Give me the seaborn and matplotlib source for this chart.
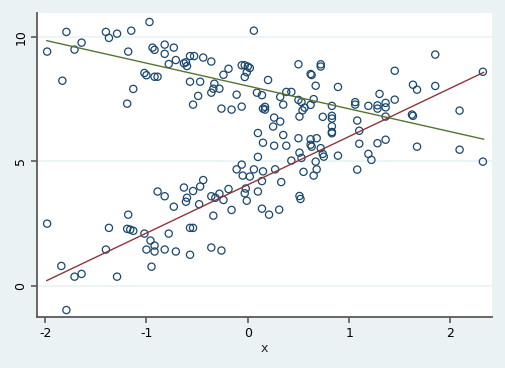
import matplotlib
matplotlib.use("Agg")
import matplotlib.pyplot as plt
import seaborn as sns
import pandas as pd

# scatter points
x_vals = [
    -1.98, -1.79, -1.83, -1.71, -1.64, -1.40, -1.37, -1.29, -1.15, -1.18,
    -0.97, -1.02, -1.00, -1.13, -1.19, -0.94, -0.92, -0.82, -0.73, -0.82,
    -0.71, -0.78, -0.63, -0.61, -0.60, -0.57, -0.53, -0.44, -0.36, -0.92,
    -0.89, -0.57, -0.47, -0.33, -0.34, -0.36, -0.28, -0.49, -0.54, -0.24,
    -0.19, -0.06, -0.03, 0.00, 0.02, -0.01, -0.03, -0.11, -0.26, -0.16,
    -0.06, 0.09, 0.14, 0.15, 0.10, 0.15, 0.10, 0.06, 0.50, 0.72,
    0.72, 0.62, 0.63, 0.20, 0.67, 0.89, 0.38, 0.43, 0.32, 0.50,
    0.53, 0.65, 0.62, 0.35, 0.56, 0.54, 0.83, 1.06, 1.06, 1.19,
    1.28, 0.17, 0.17, 0.51, 0.74, 0.83, 0.83, 0.26, 0.32, 0.25,
    0.83, 1.08, 1.10, 0.83, 0.83, 0.35, 0.26, 0.38, 0.50, 0.62,
    0.62, 0.63, 0.68, 0.72, 0.74, 0.75, 0.51, 0.53, 0.89, 1.10,
    1.19, 1.22, 1.28, 0.43, 0.67, 1.85, 1.45, 2.32, 1.63, 1.67,
    1.85, 1.30, 1.36, 1.36, 1.45, 1.28, 1.36, 2.09, 1.62, 1.63,
    1.36, 1.67, 2.09, 2.32,
    -1.98, -1.18, -1.37, -1.19, -1.16, -1.13, -1.02, -0.96, -1.40, -1.00,
    -1.84, -1.71, -1.64, -1.29, -0.95, -1.79, -0.06, -0.11, -0.05, 0.02,
    0.06, 0.15, -0.89, -0.82, -0.63, -0.60, -0.61, -0.54, -0.47, -0.44,
    -0.73, -0.48, -0.36, -0.32, -0.28, -0.24, -0.19, -0.16, -0.34, -0.02,
    -0.03, -0.01, 0.10, 0.14, 0.14, -0.57, -0.54, -0.78, -0.92, -0.92,
    -0.82, -0.71, -0.57, -0.36, -0.26, 0.27, 0.68, 0.65, 0.55, 1.08,
    0.33, 0.51, 0.52, 0.21, 0.31,
]
y_vals = [
    9.40, 10.19, 8.23, 9.48, 9.76, 10.19, 9.95, 10.12, 10.24, 9.40,
    10.59, 8.54, 8.45, 7.90, 7.31, 9.56, 9.47, 9.68, 9.56, 9.31,
    9.06, 8.90, 8.93, 8.97, 8.82, 9.22, 9.22, 9.16, 9.00, 8.39,
    8.39, 8.19, 8.19, 8.11, 7.91, 7.75, 7.91, 7.62, 7.27, 8.47,
    8.71, 8.85, 8.85, 8.80, 8.74, 8.57, 8.38, 7.67, 7.11, 7.07,
    7.19, 7.75, 7.65, 7.11, 6.13, 5.74, 5.17, 10.24, 8.89, 8.89,
    8.80, 8.50, 8.46, 8.26, 8.03, 7.98, 7.78, 7.78, 7.58, 7.46,
    7.37, 7.49, 7.26, 7.27, 7.15, 7.04, 7.22, 7.37, 7.27, 7.22,
    7.11, 7.18, 7.07, 6.79, 6.78, 6.82, 6.71, 6.75, 6.59, 6.39,
    6.40, 6.63, 6.22, 6.17, 6.12, 6.05, 5.62, 5.62, 5.92, 5.88,
    5.66, 5.58, 5.92, 5.52, 5.29, 5.18, 5.34, 5.13, 5.22, 5.70,
    5.29, 5.05, 5.72, 5.02, 4.98, 9.28, 8.63, 8.59, 8.07, 7.87,
    8.02, 7.70, 7.34, 7.16, 7.47, 7.24, 6.79, 7.03, 6.87, 6.82,
    5.86, 5.58, 5.46, 4.98,
    2.49, 2.85, 2.32, 2.28, 2.25, 2.20, 2.09, 1.81, 1.45, 1.45,
    0.79, 0.36, 0.47, 0.36, 0.76, -0.98, 4.86, 4.67, 4.42, 4.38,
    4.67, 4.59, 3.78, 3.59, 3.94, 3.53, 3.37, 3.80, 3.98, 4.24,
    3.17, 3.27, 3.59, 3.53, 3.69, 3.44, 3.88, 3.04, 2.81, 3.90,
    3.71, 3.41, 3.78, 4.20, 3.09, 2.32, 2.32, 2.09, 1.61, 1.37,
    1.45, 1.37, 1.24, 1.53, 1.41, 4.67, 4.67, 4.42, 4.57, 4.66,
    4.16, 3.60, 3.48, 2.85, 3.05,
]

# fitted lines (endpoints)
fit_x = [-1.985, 2.33]
fit_green = [9.84, 5.88]
fit_red = [0.20, 8.57]

x_ticks = [-2, -1, 0, 1, 2]
y_ticks = [0, 5, 10]

BG = "#EAF2F3"
NAVY = "#1a476f"
MAROON = "#90353b"
GREEN = "#55752f"

sns.set_theme(style="white")
plt.rcParams["font.family"] = ["DejaVu Sans"]

fig = plt.figure(figsize=(5.06, 3.68), dpi=100, facecolor=BG)
ax = fig.add_axes([37 / 506, 1 - 317 / 368, (492 - 37) / 506, (317 - 13) / 368])
ax.set_facecolor("white")

pts = pd.DataFrame({"x": x_vals, "y": y_vals})
lines = pd.DataFrame({"x": fit_x, "g": fit_green, "r": fit_red})

for yt in y_ticks:
    ax.axhline(yt, color=BG, lw=1.2, zorder=0)

sns.scatterplot(data=pts, x="x", y="y", ax=ax, marker="o", s=27,
                facecolors="none", edgecolor=NAVY, linewidth=0.9, zorder=3)
sns.lineplot(data=lines, x="x", y="g", ax=ax, color=GREEN, lw=1.0, zorder=4)
sns.lineplot(data=lines, x="x", y="r", ax=ax, color=MAROON, lw=1.0, zorder=4)

ax.set_xlim(-2.08, 2.41)
ax.set_ylim(-1.26, 10.95)
ax.set_xticks(x_ticks)
ax.set_yticks(y_ticks)
ax.set_xticklabels([str(v) for v in x_ticks])
ax.set_yticklabels([str(v) for v in y_ticks], rotation=90, va="center")
ax.tick_params(axis="both", direction="out", length=4, width=1.2,
               color="#5a5a5a", labelsize=9, labelcolor="black", pad=3)
ax.tick_params(axis="both", which="both", bottom=True, left=True)

for s in ["top", "right"]:
    ax.spines[s].set_visible(False)
for s in ["left", "bottom"]:
    ax.spines[s].set_color("#5a5a5a")
    ax.spines[s].set_linewidth(1.3)

ax.set_xlabel("x", fontsize=9, labelpad=2)
ax.set_ylabel("")

fig.savefig("out.png", dpi=100, facecolor=BG)
